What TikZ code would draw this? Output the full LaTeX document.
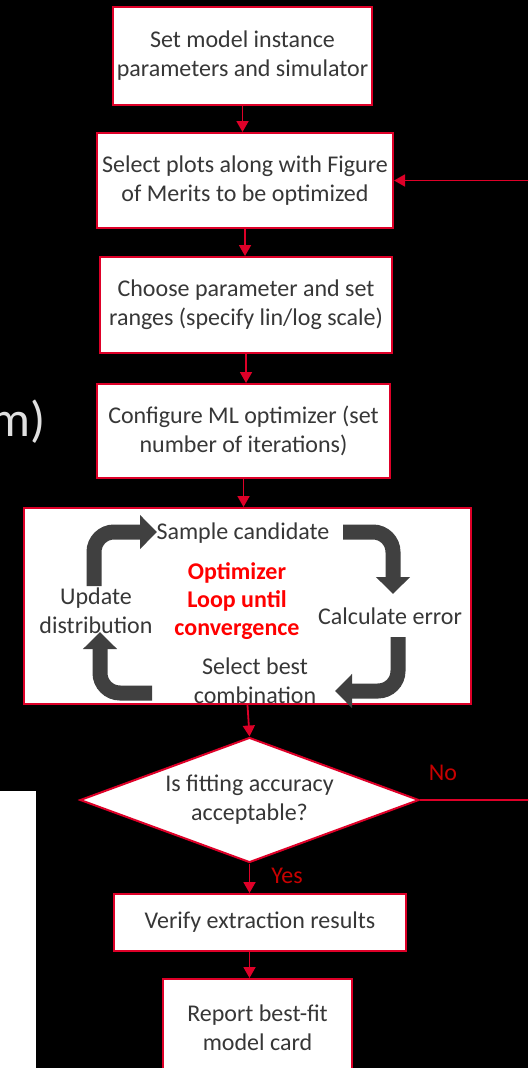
\documentclass[tikz,border=0pt]{standalone}
\usepackage{fontspec}
\setmainfont{Carlito}
\usetikzlibrary{arrows.meta,shapes.geometric}
\definecolor{boxred}{RGB}{222,0,40}
\definecolor{txtgray}{RGB}{55,55,55}
\definecolor{loopgray}{RGB}{64,64,64}
\definecolor{labelred}{RGB}{200,0,0}
\tikzset{
  stepbox/.style={draw=boxred,line width=2pt,fill=white,text=txtgray,align=center,
    inner sep=0pt,font=\fontsize{24}{29}\selectfont},
  looptext/.style={text=txtgray,align=center,inner sep=0pt,font=\fontsize{24}{29}\selectfont},
  flow/.style={draw=boxred,line width=1.8pt,-{Triangle[width=12pt,length=11pt]}},
  bentarrow/.style={draw=loopgray,line width=15pt,rounded corners=20pt,
    -{Triangle[width=33pt,length=17pt]}},
}
\begin{document}
\begin{tikzpicture}[x=1pt,y=-1pt]
  % background
  \fill[black] (0,0) rectangle (528,1068);
  \useasboundingbox (0,0) rectangle (528,1068);
  \clip (0,0) rectangle (528,1068);
  \fill[white] (0,791) rectangle (36,1068);
  \node[anchor=east,inner sep=0pt,text=white!88!black,font=\fontsize{50}{60}\selectfont] (cut) at (46,422) {m)};
  % steps
  \node[stepbox,minimum width=259pt,minimum height=98pt] (inst) at (242.5,56)
    {Set model instance\\parameters and simulator};
  \node[stepbox,minimum width=296pt,minimum height=95pt] (plots) at (245,180.5)
    {Select plots along with Figure\\of Merits to be optimized};
  \node[stepbox,minimum width=292pt,minimum height=96pt] (ranges) at (246,305)
    {Choose parameter and set\\ranges (specify lin/log scale)};
  \node[stepbox,minimum width=293pt,minimum height=94pt] (config) at (243.5,431)
    {Configure ML optimizer (set\\number of iterations)};
  % optimizer loop
  \node[stepbox,minimum width=447pt,minimum height=196pt] (loop) at (247.5,606) {};
  \node[looptext] (sample) at (243,533) {Sample candidate};
  \node[looptext] (calc) at (390,616) {Calculate error};
  \node[looptext] (best) at (255,681) {Select best\\combination};
  \node[looptext] (update) at (96,611) {Update\\distribution};
  \node[looptext,text=red,font=\fontsize{24}{28}\selectfont\bfseries] (opt) at (237,601)
    {Optimizer\\Loop until\\convergence};
  \draw[bentarrow] (94,586) -- (94,532) -- (157,532);
  \draw[bentarrow] (343,532) -- (393,532) -- (393,594);
  \draw[bentarrow] (398,637) -- (398,691) -- (335,691);
  \draw[bentarrow] (152,693) -- (100,693) -- (100,632);
  % decision
  \node[diamond,draw=boxred,line width=2pt,fill=white,text=txtgray,align=center,inner sep=0pt,
    aspect=2.7,minimum width=339pt,minimum height=125pt,font=\fontsize{24}{29}\selectfont]
    (fit) at (249.5,800) {Is fitting accuracy\\acceptable?};
  \node[stepbox,minimum width=292pt,minimum height=57pt] (verify) at (260,922.5)
    {Verify extraction results};
  \node[stepbox,minimum width=189pt,minimum height=98pt] (report) at (257.5,1028)
    {Report best-fit\\model card};
  \node[text=labelred,inner sep=0pt,font=\fontsize{24}{29}\selectfont] (no) at (443,773) {No};
  \node[text=labelred,inner sep=0pt,font=\fontsize{24}{29}\selectfont] (yes) at (287,876) {Yes};
  % connectors
  \draw[flow] (inst.south) -- (inst.south |- plots.north);
  \draw[flow] (plots.south) -- (plots.south |- ranges.north);
  \draw[flow] (ranges.south) -- (ranges.south |- config.north);
  \draw[flow] (config.south) -- (config.south |- loop.north);
  \draw[flow] (loop.south) -- (fit.north);
  \draw[flow] (fit.south) -- (fit.south |- verify.north);
  \draw[flow] (verify.south -| fit.south) -- (fit.south |- report.north);
  \coordinate (back) at (535,800);
  \draw[flow] (fit.east) -- (back) |- (plots.east);
\end{tikzpicture}
\end{document}
